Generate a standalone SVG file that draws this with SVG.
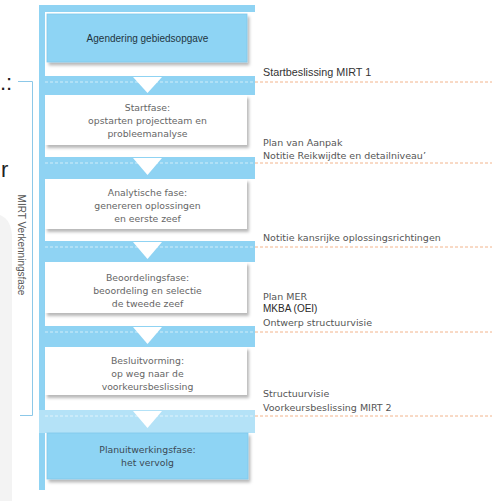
<svg xmlns="http://www.w3.org/2000/svg" width="492" height="501" viewBox="0 0 492 501">
<defs>
<filter id="sh" x="-10%" y="-20%" width="130%" height="150%">
<feDropShadow dx="2" dy="3" stdDeviation="1.8" flood-color="#000" flood-opacity="0.28"/>
</filter>
<style>
.col{fill:#8fd3f3}
.band5{fill:#b4e2f7}
.wbox{fill:#ffffff}
.bbox{fill:#8ed4f4;stroke:#7fc9ec;stroke-width:0.8}
.tri{fill:#ffffff}
.wdash{stroke:#ffffff;stroke-opacity:0.6;stroke-width:1;stroke-dasharray:3 2}
.odash{stroke:#f2b48c;stroke-width:1;stroke-dasharray:3 2}
.bt{font-family:"DejaVu Sans",Verdana,sans-serif;font-size:9.3px;fill:#666;text-anchor:middle}
.bt2{font-family:"DejaVu Sans",Verdana,sans-serif;font-size:9.3px;fill:#3b4a55;text-anchor:middle}
.ht{font-family:"Liberation Sans",Arial,sans-serif;font-size:10px;fill:#1f3440;text-anchor:middle}
.rt{font-family:"DejaVu Sans",Verdana,sans-serif;font-size:9.5px;fill:#555}
.rc{font-family:"Liberation Sans",Arial,sans-serif;font-size:10.8px;fill:#333}
.big{font-family:"Liberation Sans",Arial,sans-serif;font-size:22px;fill:#222}
.br{stroke:#8cc8e8;stroke-width:1;fill:none}
</style>
</defs>
<rect x="0" y="0" width="492" height="501" fill="#ffffff"/>
<path d="M0,215 Q12,220 12,238 L12,501 L0,501 Z" fill="#f3f3f3"/>
<text class="big" x="0" y="90">.:</text>
<text class="big" x="1" y="177">r</text>

<g id="column">
<rect class="col" x="39" y="5" width="216" height="7"/>
<rect class="col" x="39" y="5" width="6" height="485"/>
<rect class="col" x="39" y="76" width="216" height="19"/>
<rect class="col" x="39" y="157" width="216" height="22"/>
<rect class="col" x="39" y="241" width="216" height="21"/>
<rect class="col" x="39" y="326" width="216" height="21"/>
<rect class="band5" x="39" y="410" width="216" height="23"/>
</g>

<g id="n1">
<rect class="bbox" x="47" y="14" width="200" height="48" filter="url(#sh)"/>
<text class="ht" x="147.5" y="41.5">Agendering gebiedsopgave</text>
</g>
<g id="n2">
<rect class="wbox" x="45" y="95" width="202" height="50" filter="url(#sh)"/>
<text class="bt" x="147.5" y="110.5">Startfase:</text>
<text class="bt" x="147.5" y="124">opstarten projectteam en</text>
<text class="bt" x="147.5" y="137">probleemanalyse</text>
</g>
<g id="n3">
<rect class="wbox" x="45" y="179" width="202" height="50" filter="url(#sh)"/>
<text class="bt" x="147.5" y="196">Analytische fase:</text>
<text class="bt" x="147.5" y="209">genereren oplossingen</text>
<text class="bt" x="147.5" y="222">en eerste zeef</text>
</g>
<g id="n4">
<rect class="wbox" x="45" y="262" width="202" height="51" filter="url(#sh)"/>
<text class="bt" x="147.5" y="281">Beoordelingsfase:</text>
<text class="bt" x="147.5" y="294">beoordeling en selectie</text>
<text class="bt" x="147.5" y="307">de tweede zeef</text>
</g>
<g id="n5">
<rect class="wbox" x="45" y="347" width="202" height="48" filter="url(#sh)"/>
<text class="bt" x="147.5" y="364">Besluitvorming:</text>
<text class="bt" x="147.5" y="377">op weg naar de</text>
<text class="bt" x="147.5" y="390">voorkeursbeslissing</text>
</g>
<g id="n6">
<rect class="bbox" x="47" y="433" width="201" height="46" filter="url(#sh)"/>
<text class="bt2" x="147.5" y="453">Planuitwerkingsfase:</text>
<text class="bt2" x="147.5" y="466">het vervolg</text>
</g>

<g id="connectors">
<line class="wdash" x1="45" y1="82" x2="255" y2="82"/>
<line class="wdash" x1="45" y1="163" x2="255" y2="163"/>
<line class="wdash" x1="45" y1="247" x2="255" y2="247"/>
<line class="wdash" x1="45" y1="332" x2="255" y2="332"/>
<line class="wdash" x1="45" y1="416" x2="255" y2="416"/>
<polygon class="tri" points="133,77 162,77 147.5,93"/>
<polygon class="tri" points="133,158 162,158 147.5,175"/>
<polygon class="tri" points="133,242 162,242 147.5,259"/>
<polygon class="tri" points="133,327 162,327 147.5,344"/>
<polygon class="tri" points="133,411 162,411 147.5,428"/>
<line class="odash" x1="255" y1="82" x2="492" y2="82"/>
<line class="odash" x1="255" y1="163" x2="492" y2="163"/>
<line class="odash" x1="255" y1="247" x2="492" y2="247"/>
<line class="odash" x1="255" y1="332" x2="492" y2="332"/>
<line class="odash" x1="255" y1="416" x2="492" y2="416"/>
<path class="br" d="M18,81.5 H32.5 V415.5 H20"/>
</g>

<g id="labels">
<text class="rc" x="263" y="76">Startbeslissing MIRT 1</text>
<text class="rt" x="263" y="145.5">Plan van Aanpak</text>
<text class="rt" x="263" y="158.5">Notitie Reikwijdte en detailniveau’</text>
<text class="rt" x="263" y="240.5">Notitie kansrijke oplossingsrichtingen</text>
<text class="rt" x="263" y="300">Plan MER</text>
<text class="rc" x="263" y="312" style="font-size:10px;fill:#2a2a2a">MKBA (OEI)</text>
<text class="rt" x="263" y="326">Ontwerp structuurvisie</text>
<text class="rt" x="263" y="397">Structuurvisie</text>
<text class="rt" x="263" y="411">Voorkeursbeslissing MIRT 2</text>
<text transform="translate(18,245) rotate(90)" text-anchor="middle" style="font-family:'Liberation Sans',Arial,sans-serif;font-size:10px;fill:#555">MIRT Verkenningsfase</text>
</g>
</svg>
